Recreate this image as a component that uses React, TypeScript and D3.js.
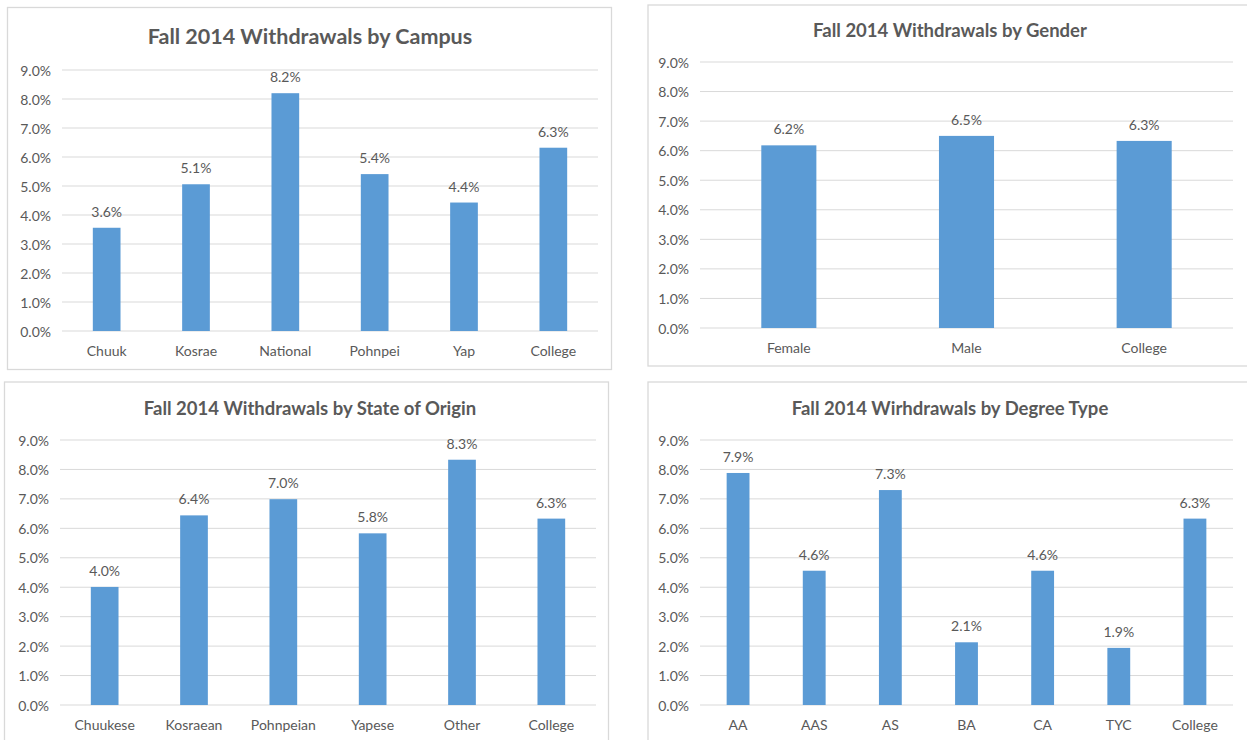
import React from "react";
import * as d3 from "d3";

const campusCategories = ["Chuuk", "Kosrae", "National", "Pohnpei", "Yap", "College"];
const campusValues = [3.56, 5.06, 8.2, 5.41, 4.43, 6.32];

const genderCategories = ["Female", "Male", "College"];
const genderValues = [6.18, 6.5, 6.33];

const stateCategories = ["Chuukese", "Kosraean", "Pohnpeian", "Yapese", "Other", "College"];
const stateValues = [4.01, 6.44, 6.99, 5.83, 8.33, 6.33];

const degreeCategories = ["AA", "AAS", "AS", "BA", "CA", "TYC", "College"];
const degreeValues = [7.88, 4.56, 7.3, 2.13, 4.56, 1.94, 6.33];

const yTicks = [0, 1, 2, 3, 4, 5, 6, 7, 8, 9];

const FONT = "Lato, 'Open Sans', sans-serif";
const TEXT = "#595959";
const GRID = "#D9D9D9";
const BAR = "#5B9BD5";

type PanelProps = {
  box: [number, number, number, number];
  titleCx: number;
  plot: { x0: number; x1: number; y0: number; y1: number };
  title: string;
  titleY: number;
  titleSize: number;
  categories: string[];
  values: number[];
  barFrac: number;
};

function Panel({ box, titleCx, plot, title, titleY, titleSize, categories, values, barFrac }: PanelProps) {
  const x = d3.scaleBand<string>().domain(categories).range([plot.x0, plot.x1]).padding(0);
  const y = d3.scaleLinear().domain([0, 9]).range([plot.y0, plot.y1]);
  const bw = x.bandwidth() * barFrac;
  return (
    <g>
      <rect x={box[0]} y={box[1]} width={box[2]} height={box[3]} fill="#fff" stroke={GRID} strokeWidth={1.3} />
      <text x={titleCx} y={titleY} textAnchor="middle" dominantBaseline="central" fill={TEXT} fontFamily={FONT} fontWeight="bold" fontSize={titleSize}>
        {title}
      </text>
      {yTicks.map((t) => (
        <g key={t}>
          <line x1={plot.x0} x2={plot.x1} y1={y(t)} y2={y(t)} stroke={GRID} strokeWidth={1} />
          <text x={plot.x0 - 11} y={y(t)} textAnchor="end" dominantBaseline="central" fill={TEXT} fontFamily={FONT} fontSize={14}>
            {t.toFixed(1) + "%"}
          </text>
        </g>
      ))}
      {categories.map((c, i) => {
        const cx = (x(c) as number) + x.bandwidth() / 2;
        const top = y(values[i]);
        return (
          <g key={c}>
            <rect x={cx - bw / 2} y={top} width={bw} height={plot.y0 - top} fill={BAR} />
            <text x={cx} y={top - 11} textAnchor="middle" fill={TEXT} fontFamily={FONT} fontSize={14}>
              {(Math.round(values[i] * 10) / 10).toFixed(1) + "%"}
            </text>
            <text x={cx} y={plot.y0 + 19} textAnchor="middle" dominantBaseline="central" fill={TEXT} fontFamily={FONT} fontSize={14}>
              {c}
            </text>
          </g>
        );
      })}
    </g>
  );
}

export default function App() {
  return (
    <div style={{ position: "fixed", left: 0, top: 0 }}>
      <svg width={1247} height={740} style={{ display: "block", background: "#fff" }}>
        <Panel
          box={[7.5, 7.5, 604, 362]}
          titleCx={310}
          plot={{ x0: 62, x1: 598, y0: 331, y1: 70 }}
          title="Fall 2014 Withdrawals by Campus"
          titleY={36}
          titleSize={21.5}
          categories={campusCategories}
          values={campusValues}
          barFrac={0.31}
        />
        <Panel
          box={[648, 5, 620, 361]}
          titleCx={950}
          plot={{ x0: 700, x1: 1233, y0: 328, y1: 62 }}
          title="Fall 2014 Withdrawals by Gender"
          titleY={30}
          titleSize={18.5}
          categories={genderCategories}
          values={genderValues}
          barFrac={0.31}
        />
        <Panel
          box={[4.5, 382, 604, 380]}
          titleCx={310}
          plot={{ x0: 60, x1: 596, y0: 705, y1: 440 }}
          title="Fall 2014 Withdrawals by State of Origin"
          titleY={408}
          titleSize={18.5}
          categories={stateCategories}
          values={stateValues}
          barFrac={0.31}
        />
        <Panel
          box={[648, 382, 620, 380]}
          titleCx={950}
          plot={{ x0: 700, x1: 1233, y0: 705, y1: 440 }}
          title="Fall 2014 Wirhdrawals by Degree Type"
          titleY={408}
          titleSize={18.5}
          categories={degreeCategories}
          values={degreeValues}
          barFrac={0.3}
        />
      </svg>
    </div>
  );
}
